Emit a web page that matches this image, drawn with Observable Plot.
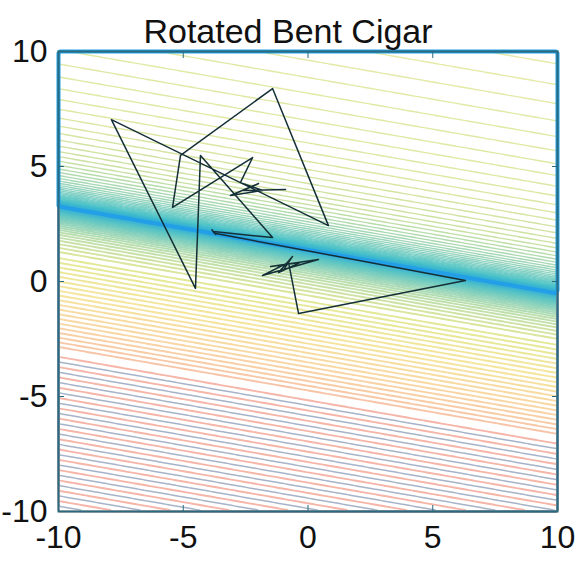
<!DOCTYPE html>
<html><head><meta charset="utf-8">
<script src="https://cdn.jsdelivr.net/npm/d3@7"></script>
<script src="https://cdn.jsdelivr.net/npm/@observablehq/plot@0.6"></script>
<style>
body{margin:0;background:#fff}
#chart{width:576px;height:564px}
</style>
</head><body><div id="chart"></div>
<script>
const title = "Rotated Bent Cigar";
const xTicks = [-10, -5, 0, 5, 10];
const yTicks = [-10, -5, 0, 5, 10];
const xDomain = [-10, 10];
const yDomain = [-10, 10];

// optimizer trajectory
const pathX = [-0.90, -2.59, -1.98, -3.11, -1.82, -2.71, -2.22, -5.43, -5.11, -1.42, 0.82, -7.88, -4.51, -4.31, -1.42, -3.79, -3.70, -3.85, -3.75, 6.31, -0.38, -0.78, -1.82, 0.42, -1.50, -0.30, -1.18, -0.62, -0.94];
const pathY = [4.00, 3.96, 4.26, 3.74, 3.96, 4.30, 5.39, 3.22, 5.48, 8.39, 2.43, 7.04, -0.30, 5.48, 1.91, 2.17, 2.05, 2.25, 2.10, 0.04, -1.39, 0.83, 0.26, 0.96, 0.65, 0.83, 0.39, 1.09, 0.57];

// rotated valley of the cigar function
const valleyAngleDeg = -10.7;
const valleyOffsetY = 1.37;

// contour colours (signed distance from valley -> colour)
const colorDomain = [-6.5, -5, -3.5, -2.2, -1.1, -0.3, 0, 0.3, 1, 2, 4, 11];
const colorRange = ["#f4ab94", "#f7ca8c", "#f1df80", "#dbe27a", "#a9d69a", "#55c3c4", "#2aa8e0", "#46c1c6", "#82cba8", "#bcd98a", "#d6e18c", "#e1e695"];
const farColorA = "#f3a89a";
const farColorB = "#8a99b5";
const valleyColor = "#229fe6";
const pathColor = "#142f36";
const frameColor = "#2b6a7c";

const th = valleyAngleDeg * Math.PI / 180;
const field = (x, y) => -Math.sin(th) * x + Math.cos(th) * (y - valleyOffsetY);

// contour levels
const posT = [];
for (let t = 0.02; t <= 10.6; t *= 1.1) posT.push(t);
const negT = [];
for (let t = 0.02; t <= 2; t *= 1.1) negT.push(-t);
for (let t = 2.2; t <= 6.2; t += 0.2) negT.push(-t);
const farA = [], farB = [];
{ let i = 0; for (let t = 6.42; t <= 13.4; t += 0.22, i++) (i % 2 ? farB : farA).push(-t); }

const grid = {value: field, x1: -10, x2: 10, y1: -10, y2: 10, pixelSize: 3, fill: "none"};
const path = pathX.map((x, i) => ({x, y: pathY[i]}));
const font = "'Liberation Sans', Arial, Helvetica, sans-serif";
const fmt = d => `${d}`;

const plot = Plot.plot({
  width: 576, height: 564,
  marginTop: 51, marginRight: 19, marginBottom: 53, marginLeft: 58,
  style: {fontFamily: font, background: "#fff", color: "#111", overflow: "visible"},
  x: {domain: xDomain, label: null},
  y: {domain: yDomain, label: null},
  color: {type: "linear", domain: colorDomain, range: colorRange, interpolate: "rgb"},
  marks: [
    Plot.contour({...grid, thresholds: posT, stroke: "value", strokeWidth: 1.4, strokeOpacity: 0.8}),
    Plot.contour({...grid, thresholds: negT, stroke: "value", strokeWidth: 1.9, strokeOpacity: 0.8}),
    Plot.contour({...grid, thresholds: farA, stroke: farColorA, strokeWidth: 1.9, strokeOpacity: 0.85}),
    Plot.contour({...grid, thresholds: farB, stroke: farColorB, strokeWidth: 1.5, strokeOpacity: 0.75}),
    Plot.contour({...grid, thresholds: [0], stroke: valleyColor, strokeWidth: 4}),
    Plot.line(path, {x: "x", y: "y", stroke: pathColor, strokeWidth: 1.5}),
    Plot.frame({stroke: frameColor, strokeWidth: 2}),
    Plot.axisX({anchor: "bottom", ticks: xTicks, tickSize: -6, tickPadding: 20, tickFormat: fmt, fontSize: 32, stroke: frameColor, fill: "#111", label: null}),
    Plot.axisX({anchor: "top", ticks: xTicks, tickSize: -6, tickFormat: () => "", stroke: frameColor, label: null}),
    Plot.axisY({anchor: "left", ticks: yTicks, tickSize: -6, tickPadding: 17, tickFormat: fmt, fontSize: 32, stroke: frameColor, fill: "#111", label: null}),
    Plot.axisY({anchor: "right", ticks: yTicks, tickSize: -6, tickFormat: () => "", stroke: frameColor, label: null}),
    Plot.text([title], {frameAnchor: "top", dy: -33, dx: -20, fontSize: 34, fill: "#111", text: d => d})
  ]
});
document.getElementById("chart").appendChild(plot);
</script>
</body></html>
